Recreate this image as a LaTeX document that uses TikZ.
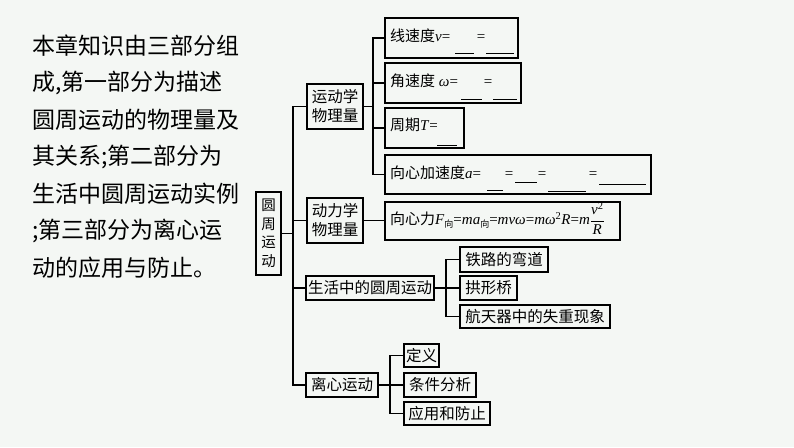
\documentclass[tikz,border=0pt]{standalone}
\usepackage{fontspec}
\setmainfont{Liberation Serif}
\newfontfamily\cjk{Noto Sans CJK SC}
\newcommand\subcn[1]{\raisebox{-0.4ex}{\cjk\fontsize{9}{9}\selectfont #1}}
\definecolor{bg}{RGB}{244,247,244}
\tikzset{
  bx/.style={draw, line width=1.3pt, inner sep=0pt, align=center,
    font=\cjk\fontsize{15.5}{19}\selectfont},
  ln/.style={line width=1.3pt},
  lbl/.style={inner sep=0pt, anchor=base west, font=\fontsize{15}{18}\selectfont},
  eq/.style={inner sep=0pt, anchor=base, font=\fontsize{15}{18}\selectfont},
  blank/.style={line width=0.9pt},
  intro/.style={inner sep=0pt, anchor=west, font=\cjk\fontsize{23}{23}\selectfont}
}
\begin{document}
\begin{tikzpicture}[x=1pt,y=-1pt]
\fill[bg] (0,0) rectangle (794,447);
\useasboundingbox (0,0) rectangle (794,447);

% intro text
\node[intro] (l1) at (32,46)  {本章知识由三部分组};
\node[intro] (l2) at (32,83)  {成,第一部分为描述};
\node[intro] (l3) at (32,120) {圆周运动的物理量及};
\node[intro] (l4) at (32,157) {其关系;第二部分为};
\node[intro] (l5) at (32,194) {生活中圆周运动实例};
\node[intro] (l6) at (32,231) {;第三部分为离心运};
\node[intro] (l7) at (32,268) {动的应用与防止。};

% boxes
\node[bx, minimum width=25pt, minimum height=83pt, font=\cjk\fontsize{14.5}{18.5}\selectfont] (root) at (268.5,233.5) {圆\\周\\运\\动};
\node[bx, minimum width=56pt, minimum height=45pt] (kin) at (335,106.5) {运动学\\物理量};
\node[bx, minimum width=56pt, minimum height=45pt] (dyn) at (335,220.5) {动力学\\物理量};
\node[bx, minimum width=128pt, minimum height=24pt] (life) at (370,288) {生活中的圆周运动};
\node[bx, minimum width=72pt, minimum height=24pt] (centrif) at (342,385) {离心运动};

\node[bx, minimum width=133pt, minimum height=40pt] (v) at (451.5,38) {};
\node[bx, minimum width=136pt, minimum height=40pt] (w) at (453,83) {};
\node[bx, minimum width=79pt, minimum height=40pt] (T) at (424.5,128) {};
\node[bx, minimum width=266pt, minimum height=39pt] (a) at (518,174.5) {};
\node[bx, minimum width=235pt, minimum height=38pt] (F) at (502.5,221) {};

\node[bx, minimum width=88pt, minimum height=25pt] (rail) at (504,259.5) {铁路的弯道};
\node[bx, minimum width=57pt, minimum height=24pt] (bridge) at (488.5,288) {拱形桥};
\node[bx, minimum width=150pt, minimum height=23pt] (space) at (535,316.5) {航天器中的失重现象};

\node[bx, minimum width=35pt, minimum height=23pt] (def) at (421.5,355.5) {定义};
\node[bx, minimum width=72pt, minimum height=24pt] (cond) at (440,385) {条件分析};
\node[bx, minimum width=86pt, minimum height=23pt] (app) at (447,413.5) {应用和防止};

% formula texts
\node[lbl] (vt) at (390,41) {{\cjk 线速度}\textit{v}=};
\node[eq] (ve) at (481,41) {=};
\draw[blank] (455,53) -- (474,53);
\draw[blank] (486,53) -- (514,53);

\node[lbl] (wt) at (390,86.5) {{\cjk 角速度} \textit{ω}=};
\node[eq] (we) at (488,86.5) {=};
\draw[blank] (461,99) -- (482,99);
\draw[blank] (493,99) -- (517,99);

\node[lbl] (Tt) at (390,130.5) {{\cjk 周期}\textit{T}=};
\draw[blank] (437,145) -- (457,145);

\node[lbl] (at) at (390,178.5) {{\cjk 向心加速度}\textit{a}=};
\node[eq] (ae1) at (509,178.5) {=};
\node[eq] (ae2) at (542,178.5) {=};
\node[eq] (ae3) at (593,178.5) {=};
\draw[blank] (487,190) -- (503,190);
\draw[blank] (515,182) -- (537,182);
\draw[blank] (548,191) -- (586,191);
\draw[blank] (599,184) -- (646,184);

\node[lbl] (Ft) at (390,224.5) {{\cjk 向心力}\textit{F}\subcn{向}=\textit{ma}\subcn{向}=\textit{mvω}=\textit{mω}\textsuperscript{2}\textit{R}=\textit{m}$\displaystyle\frac{\mbox{\textit{v}\textsuperscript{2}}}{\mbox{\textit{R}}}$};

% connectors
\coordinate (t1) at (293,0);
\draw[ln] (kin.west) -- (kin.west -| t1) -- (centrif.west -| t1) -- (centrif.west);
\draw[ln] (dyn.west) -- (dyn.west -| t1);
\draw[ln] (life.west) -- (life.west -| t1);
\draw[ln] (root.east) -- (root.east -| t1);

\coordinate (t2) at (373,0);
\draw[ln] (kin.east) -- (kin.east -| t2);
\draw[ln] (v.west) -- (v.west -| t2) -- (a.west -| t2) -- (a.west);
\draw[ln] (w.west) -- (w.west -| t2);
\draw[ln] (T.west) -- (T.west -| t2);
\draw[ln] (dyn.east) -- (dyn.east -| F.west);

\coordinate (t3) at (446,0);
\draw[ln] (life.east) -- (life.east -| t3);
\draw[ln] (rail.west) -- (rail.west -| t3) -- (space.west -| t3) -- (space.west);
\draw[ln] (bridge.west) -- (bridge.west -| t3);

\coordinate (t4) at (390,0);
\draw[ln] (centrif.east) -- (centrif.east -| t4);
\draw[ln] (def.west) -- (def.west -| t4) -- (app.west -| t4) -- (app.west);
\draw[ln] (cond.west) -- (cond.west -| t4);
\end{tikzpicture}
\end{document}
